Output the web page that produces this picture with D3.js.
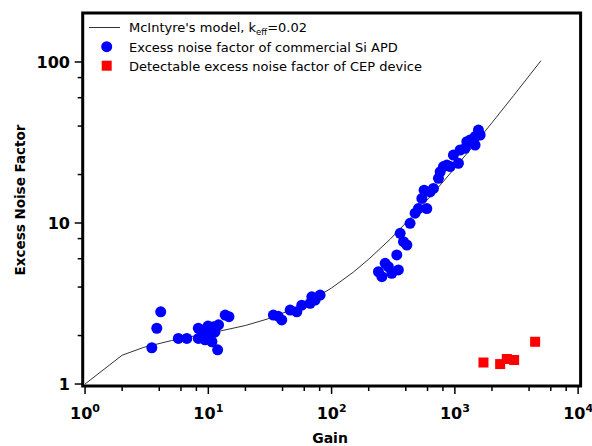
<!DOCTYPE html>
<html>
<head>
<meta charset="utf-8">
<script src="https://d3js.org/d3.v7.min.js"></script>
<style>
  body { margin: 0; background: #fff; }
  svg text { font-family: "DejaVu Sans", Verdana, sans-serif; }
</style>
</head>
<body>
<svg width="592" height="446" id="chart"></svg>
<script>

// McIntyre's model, k_eff = 0.02
var modelGain = [1, 2, 3, 5, 7, 10, 15, 20, 30, 50, 70, 100, 150, 200, 300, 500, 700, 1000, 1500, 2000, 3000, 5000];
var modelF    = [1.00, 1.51, 1.69, 1.86, 1.96, 2.06, 2.20, 2.31, 2.53, 2.94, 3.35, 3.95, 4.95, 5.96, 7.96, 11.96, 15.96, 21.96, 31.96, 41.96, 61.96, 101.96];

// commercial Si APD
var apdGain = [3.48, 3.82, 4.11, 5.71, 6.69, 8.30, 8.30, 9.71, 10.3, 11.0, 12.1, 10.7, 9.41, 11.9, 13.7, 14.7, 9.06, 11.3, 9.94,
               33.7, 39.4, 36.8, 46.1, 52.2, 57.3, 66.9, 69.1, 80.7, 73.5,
               240, 256, 272, 308, 289, 338, 348, 360, 383, 408, 433, 476, 506, 540, 592, 630, 670, 736, 760, 808, 861, 915,
               973, 1069, 1104, 1212, 1250, 1330, 1459, 1459, 1553, 1603, 563];
var apdF    = [1.68, 2.22, 2.81, 1.92, 1.92, 2.22, 1.92, 2.16, 1.97, 2.27, 2.33, 1.83, 1.88, 1.63, 2.68, 2.62, 2.07, 2.10, 2.29,
               2.68, 2.50, 2.64, 2.88, 2.81, 3.09, 3.17, 3.48, 3.57, 3.32,
               4.98, 4.64, 5.62, 4.87, 5.35, 6.33, 5.11, 8.63, 7.65, 7.30, 9.96, 11.5, 12.3, 14.2, 12.3, 15.6, 16.4, 18.95, 20.8, 22.4, 22.9, 22.4,
               26.4, 23.5, 28.4, 29.1, 32.0, 32.8, 30.5, 34.4, 37.8, 35.2, 16.0];

// detectable F of CEP device
var cepGain = [1706, 2330, 2637, 3025, 4478];
var cepF    = [1.36, 1.33, 1.43, 1.41, 1.83];

var xMajor = [1, 10, 100, 1000, 10000];
var xExp   = ["0", "1", "2", "3", "4"];
var yMajor = [1, 10, 100];
var yLabels = ["1", "10", "100"];

var svg = d3.select("#chart");
var pL = 82.7, pR = 580.6, pT = 13, pB = 386;

var x = d3.scaleLog().domain([0.957, 10471]).range([pL, pR]);
var y = d3.scaleLog().domain([0.972, 201.5]).range([pB, pT]);

// minor ticks at 2,4,6,8 per decade
var minorX = [], minorY = [];
xMajor.slice(0, 4).forEach(function(d) { [2, 4, 6, 8].forEach(function(m) { minorX.push(d * m); }); });
yMajor.forEach(function(d) { [2, 4, 6, 8].forEach(function(m) { if (d * m < 200) minorY.push(d * m); }); });

var ticks = svg.append("g").attr("stroke", "#000").attr("stroke-width", 1.5);
ticks.selectAll(".xmaj").data(xMajor).enter().append("line")
    .attr("x1", function(d) { return x(d); }).attr("x2", function(d) { return x(d); })
    .attr("y1", pB).attr("y2", pB + 8);
ticks.selectAll(".xmin").data(minorX).enter().append("line")
    .attr("x1", function(d) { return x(d); }).attr("x2", function(d) { return x(d); })
    .attr("y1", pB).attr("y2", pB + 5);
ticks.selectAll(".ymaj").data(yMajor).enter().append("line")
    .attr("y1", function(d) { return y(d); }).attr("y2", function(d) { return y(d); })
    .attr("x1", pL).attr("x2", pL - 8);
ticks.selectAll(".ymin").data(minorY).enter().append("line")
    .attr("y1", function(d) { return y(d); }).attr("y2", function(d) { return y(d); })
    .attr("x1", pL).attr("x2", pL - 5);

// tick labels
var xl = svg.append("g").selectAll("text").data(xMajor).enter().append("text")
    .attr("x", function(d) { return x(d); })
    .attr("y", 419)
    .attr("text-anchor", "middle")
    .attr("font-size", 16)
    .attr("font-weight", "bold");
xl.append("tspan").text("10");
xl.append("tspan").attr("dy", -7).attr("font-size", 11).text(function(d, i) { return xExp[i]; });

svg.append("g").selectAll("text").data(yMajor).enter().append("text")
    .attr("x", 70)
    .attr("y", function(d) { return y(d); })
    .attr("dy", "0.36em")
    .attr("text-anchor", "end")
    .attr("font-size", 16)
    .attr("font-weight", "bold")
    .text(function(d, i) { return yLabels[i]; });

// axis titles
svg.append("text")
    .attr("x", 330).attr("y", 443)
    .attr("text-anchor", "middle")
    .attr("font-size", 14).attr("font-weight", "bold")
    .text("Gain");
svg.append("text")
    .attr("transform", "translate(25,200) rotate(-90)")
    .attr("text-anchor", "middle")
    .attr("font-size", 13.5).attr("font-weight", "bold")
    .text("Excess Noise Factor");

// model curve
var line = d3.line()
    .x(function(d, i) { return x(modelGain[i]); })
    .y(function(d) { return y(d); });
svg.append("path")
    .datum(modelF)
    .attr("fill", "none")
    .attr("stroke", "#333")
    .attr("stroke-width", 1)
    .attr("d", line);

svg.append("g").selectAll("circle").data(apdF).enter().append("circle")
    .attr("cx", function(d, i) { return x(apdGain[i]); })
    .attr("cy", function(d) { return y(d); })
    .attr("r", 5.5)
    .attr("fill", "#0000ff");

svg.append("g").selectAll("rect").data(cepF).enter().append("rect")
    .attr("x", function(d, i) { return x(cepGain[i]) - 5; })
    .attr("y", function(d) { return y(d) - 5; })
    .attr("width", 10).attr("height", 10)
    .attr("fill", "#ff0000");

// frame
svg.append("rect")
    .attr("x", pL).attr("y", pT)
    .attr("width", pR - pL).attr("height", pB - pT)
    .attr("fill", "none")
    .attr("stroke", "#000")
    .attr("stroke-width", 3);

// legend
var lg = svg.append("g").attr("font-size", 13);
lg.append("line").attr("x1", 89).attr("x2", 120).attr("y1", 27.5).attr("y2", 27.5)
    .attr("stroke", "#333").attr("stroke-width", 1);
var t1 = lg.append("text").attr("x", 129).attr("y", 32);
t1.append("tspan").text("McIntyre's model, k");
t1.append("tspan").attr("dy", 3).attr("font-size", 8.5).text("eff");
t1.append("tspan").attr("dy", -3).text("=0.02");
lg.append("circle").attr("cx", 106.7).attr("cy", 46.7).attr("r", 5.5).attr("fill", "#0000ff");
lg.append("text").attr("x", 129).attr("y", 51.5).text("Excess noise factor of commercial Si APD");
lg.append("rect").attr("x", 101.7).attr("y", 60.7).attr("width", 10).attr("height", 10).attr("fill", "#ff0000");
lg.append("text").attr("x", 129).attr("y", 70.5).text("Detectable excess noise factor of CEP device");

</script>
</body>
</html>
